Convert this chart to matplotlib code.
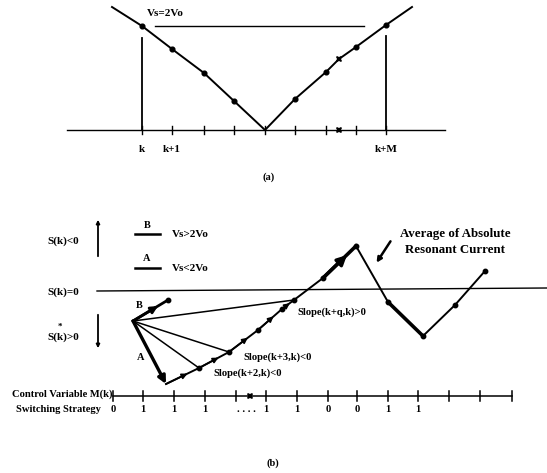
import matplotlib
matplotlib.use("Agg")
import matplotlib.pyplot as plt

# ---------------- data (diagram coordinates, y grows downward) ----------------
# (a) resonant current envelope, sampled at switching instants
curve_a_x = [112, 142, 172, 204, 234, 265, 295, 326, 339, 356, 386, 412]
curve_a_y = [7, 26, 49, 73, 101, 130, 99, 72, 59, 47, 25, 7]
dots_a_x = [142, 172, 204, 234, 295, 326, 356, 386]
dots_a_y = [26, 49, 73, 101, 99, 72, 47, 25]
ticks_a = [142, 172, 204, 234, 265, 295, 326, 356, 386]
tick_labels_a = {142: "k", 172: "k+1", 386: "k+M"}

# (b) trajectory of S(k)
origin_b = (133, 321)
pointB = (168, 300)
path_x = [166, 199, 229, 258, 282, 294, 323, 356, 388, 423, 455, 485]
path_y = [384, 368, 352, 330, 309, 300, 278, 246, 302, 336, 305, 271]
fan_targets = [(199, 368), (229, 352), (294, 300)]
bottom_ticks = [113, 143, 174, 205, 236, 266, 297, 328, 357, 388, 418, 449, 480, 512]
strategy_pos = [113, 143, 174, 205, 246, 266, 297, 328, 357, 388, 418]
strategy_lab = ["0", "1", "1", "1", ". . . .", "1", "1", "0", "0", "1", "1"]

# ---------------- figure ----------------
fig = plt.figure(figsize=(5.47, 4.73), dpi=100)
ax = fig.add_axes([0, 0, 1, 1])
ax.set_xlim(0, 547)
ax.set_ylim(473, 0)
ax.axis("off")

K = "black"
serif = ["Liberation Serif", "DejaVu Serif"]
tb = dict(family=serif, fontweight="bold", color=K)

# ======== panel (a) ========
ax.plot([67, 445], [130, 130], color=K, lw=1.0)
for t in ticks_a:
    ax.plot([t, t], [126, 134], color=K, lw=1.0)
ax.plot([339], [130], marker="X", color=K, ms=4.5, mew=0)
ax.plot(curve_a_x, curve_a_y, color=K, lw=1.4)
ax.plot(dots_a_x, dots_a_y, "o", color=K, ms=3.4)
ax.plot([339], [59], marker="X", color=K, ms=5, mew=0)
ax.plot([155, 364], [26, 26], color=K, lw=1.0)
ax.plot([142, 142], [38, 130], color=K, lw=1.3)
ax.plot([386, 386], [36, 130], color=K, lw=1.3)
ax.text(165, 13, "Vs=2Vo", ha="center", va="center", fontsize=8, **tb)
for x, lab in tick_labels_a.items():
    ax.text(x, 149, lab, ha="center", va="center", fontsize=8, **tb)
ax.text(269, 177, "(a)", ha="center", va="center", fontsize=7.5, **tb)

# ======== panel (b) ========
# S(k)=0 line
ax.plot([97, 547], [291, 288], color=K, lw=1.0)
ax.text(63, 292, "S(k)=0", ha="center", va="center", fontsize=8, **tb)
ax.text(63, 241, "S(k)<0", ha="center", va="center", fontsize=8, **tb)
ax.text(63, 337, "S(k)>0", ha="center", va="center", fontsize=8, **tb)
ax.text(60, 327, "*", ha="center", va="center", fontsize=6.5, **tb)
ax.annotate("", xy=(98, 217), xytext=(98, 259),
            arrowprops=dict(arrowstyle="-|>", color=K, lw=1.3, mutation_scale=5))
ax.annotate("", xy=(98, 351), xytext=(98, 312),
            arrowprops=dict(arrowstyle="-|>", color=K, lw=1.3, mutation_scale=5))

# legend
ax.plot([135, 160], [234, 234], color=K, lw=1.8)
ax.text(147, 225, "B", ha="center", va="center", fontsize=7.5, **tb)
ax.text(172, 234, "Vs>2Vo", ha="left", va="center", fontsize=8, **tb)
ax.plot([135, 160], [268, 268], color=K, lw=1.8)
ax.text(147, 258, "A", ha="center", va="center", fontsize=7.5, **tb)
ax.text(172, 268, "Vs<2Vo", ha="left", va="center", fontsize=8, **tb)

# fan lines from origin
ox, oy = origin_b
for tx, ty in fan_targets:
    ax.plot([ox, tx], [oy, ty], color=K, lw=1.1)

# B arrow
ax.plot([ox, pointB[0]], [oy, pointB[1]], color=K, lw=2.0)
ax.plot([pointB[0]], [pointB[1]], "o", color=K, ms=3.2)
ax.annotate("", xy=(158, 306), xytext=(ox, oy),
            arrowprops=dict(arrowstyle="-|>", color=K, lw=2.0, mutation_scale=10,
                            shrinkA=0, shrinkB=0))
ax.text(139, 305, "B", ha="center", va="center", fontsize=7.5, **tb)

# A arrow
ax.annotate("", xy=(path_x[0], path_y[0]), xytext=(ox, oy),
            arrowprops=dict(arrowstyle="-|>", color=K, lw=2.4, mutation_scale=11,
                            shrinkA=0, shrinkB=0))
ax.text(141, 357, "A", ha="center", va="center", fontsize=7.5, **tb)

# trajectory
for i in range(len(path_x) - 1):
    lw = 2.6 if i in (6, 8) else 1.4
    ax.plot(path_x[i:i + 2], path_y[i:i + 2], color=K, lw=lw)
ax.plot(path_x[1:], path_y[1:], "o", color=K, ms=3.2)
# direction arrowheads along rising part
for i in range(0, 5):
    x0, y0, x1, y1 = path_x[i], path_y[i], path_x[i + 1], path_y[i + 1]
    mx, my = x0 + (x1 - x0) * 0.65, y0 + (y1 - y0) * 0.65
    ax.annotate("", xy=(mx, my), xytext=(x0, y0),
                arrowprops=dict(arrowstyle="-|>", color=K, lw=1.2, mutation_scale=8,
                                shrinkA=0, shrinkB=0))
ax.annotate("", xy=(347, 255), xytext=(323, 278),
            arrowprops=dict(arrowstyle="-|>", color=K, lw=2.4, mutation_scale=14,
                            shrinkA=0, shrinkB=0))

# slope labels
ax.text(297, 312, "Slope(k+q,k)>0", ha="left", va="center", fontsize=7.6, **tb)
ax.text(243, 357, "Slope(k+3,k)<0", ha="left", va="center", fontsize=7.6, **tb)
ax.text(213, 373, "Slope(k+2,k)<0", ha="left", va="center", fontsize=7.6, **tb)

# average annotation
ax.text(455, 234, "Average of Absolute", ha="center", va="center", fontsize=9.3, **tb)
ax.text(455, 250, "Resonant Current", ha="center", va="center", fontsize=9.3, **tb)
ax.annotate("", xy=(375, 265), xytext=(392, 239),
            arrowprops=dict(arrowstyle="-|>", color=K, lw=1.8, mutation_scale=7))

# control variable axis
ax.plot([bottom_ticks[0], bottom_ticks[-1]], [396, 396], color=K, lw=1.1)
for t in bottom_ticks:
    ax.plot([t, t], [391, 401], color=K, lw=1.1)
ax.plot([250], [396], marker="X", color=K, ms=5, mew=0)
ax.text(112, 394, "Control Variable M(k)", ha="right", va="center", fontsize=7.6, **tb)
ax.text(101, 409, "Switching Strategy", ha="right", va="center", fontsize=7.6, **tb)
for x, lab in zip(strategy_pos, strategy_lab):
    ax.text(x, 409, lab, ha="center", va="center", fontsize=7.6, **tb)
ax.text(273, 463, "(b)", ha="center", va="center", fontsize=7.5, **tb)

fig.savefig("out.png", dpi=100, facecolor="white")
